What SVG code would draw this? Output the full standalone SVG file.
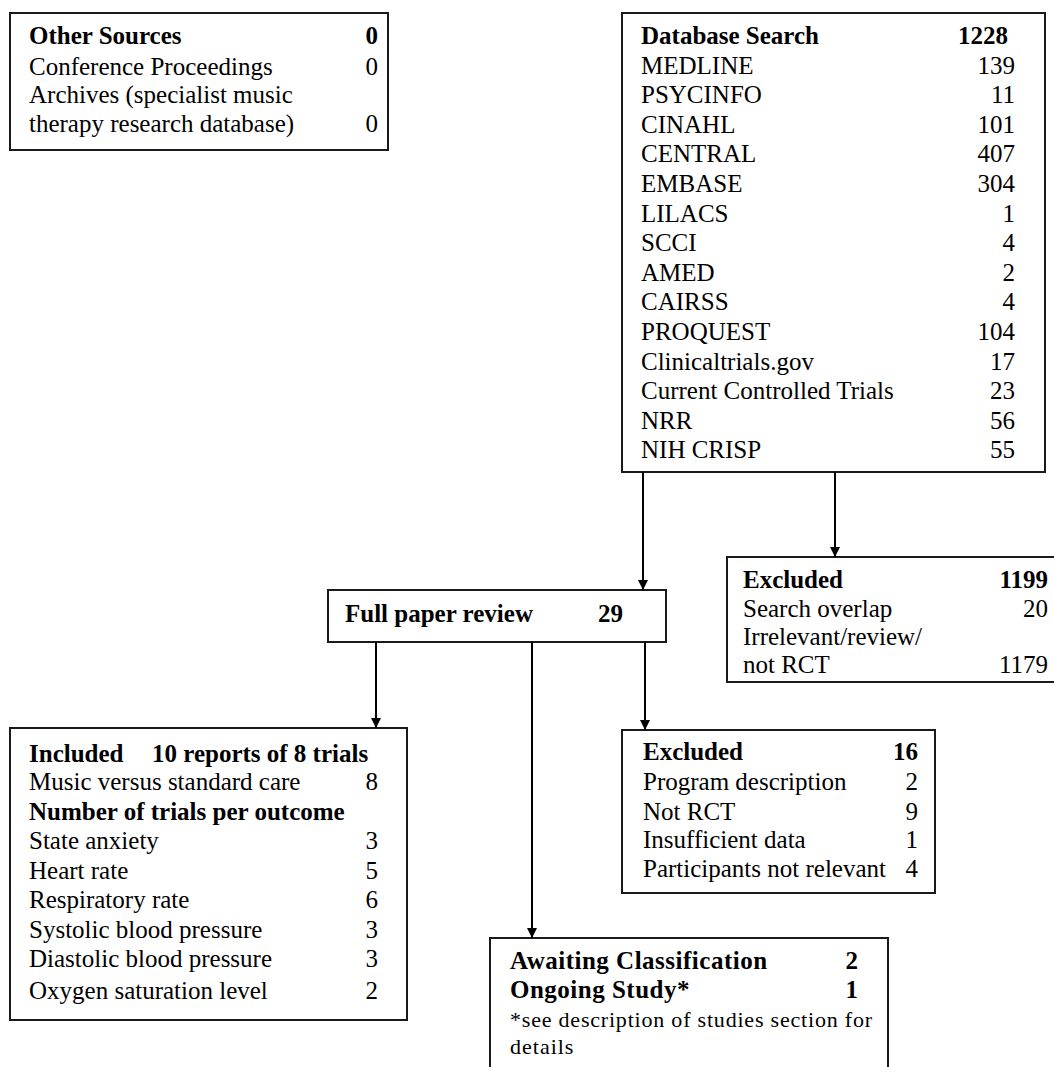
<svg xmlns="http://www.w3.org/2000/svg" width="1054" height="1067" viewBox="0 0 1054 1067">
<style>
text{font-family:"Liberation Serif","Times New Roman",serif;font-size:25px;fill:#000}
.b{font-weight:bold}
.n{text-anchor:end}
.box{fill:#fff;stroke:#1a1a1a;stroke-width:2}
.edge{stroke:#000;stroke-width:2;fill:none}
</style>
<defs>
<marker id="ah" markerWidth="10" markerHeight="10" refX="10" refY="5" orient="auto" markerUnits="userSpaceOnUse">
<path d="M0,0 L10,5 L0,10 Z" fill="#000"/>
</marker>
</defs>
<rect width="1054" height="1067" fill="#fff"/>

<g id="other-sources">
<rect class="box" x="10" y="13" width="378" height="137"/>
<text class="b" x="29" y="44">Other Sources</text><text class="b n" x="378" y="44">0</text>
<text x="29" y="75">Conference Proceedings</text><text class="n" x="378" y="75">0</text>
<text x="29" y="103">Archives (specialist music</text>
<text x="29" y="132">therapy research database)</text><text class="n" x="378" y="132">0</text>
</g>

<g id="database-search">
<rect class="box" x="622" y="13" width="423" height="459"/>
<text class="b" x="641" y="44">Database Search</text><text class="b n" x="1008" y="44">1228</text>
<text x="641" y="74">MEDLINE</text><text class="n" x="1015" y="74">139</text>
<text x="641" y="103">PSYCINFO</text><text class="n" x="1015" y="103">11</text>
<text x="641" y="133">CINAHL</text><text class="n" x="1015" y="133">101</text>
<text x="641" y="162">CENTRAL</text><text class="n" x="1015" y="162">407</text>
<text x="641" y="192">EMBASE</text><text class="n" x="1015" y="192">304</text>
<text x="641" y="222">LILACS</text><text class="n" x="1015" y="222">1</text>
<text x="641" y="251">SCCI</text><text class="n" x="1015" y="251">4</text>
<text x="641" y="281">AMED</text><text class="n" x="1015" y="281">2</text>
<text x="641" y="310">CAIRSS</text><text class="n" x="1015" y="310">4</text>
<text x="641" y="340">PROQUEST</text><text class="n" x="1015" y="340">104</text>
<text x="641" y="370">Clinicaltrials.gov</text><text class="n" x="1015" y="370">17</text>
<text x="641" y="399">Current Controlled Trials</text><text class="n" x="1015" y="399">23</text>
<text x="641" y="429">NRR</text><text class="n" x="1015" y="429">56</text>
<text x="641" y="458">NIH CRISP</text><text class="n" x="1015" y="458">55</text>
</g>

<g id="excluded-search">
<rect class="box" x="727" y="557" width="340" height="125"/>
<text class="b" x="743" y="588">Excluded</text><text class="b n" x="1048" y="588">1199</text>
<text x="743" y="617">Search overlap</text><text class="n" x="1048" y="617">20</text>
<text x="743" y="645">Irrelevant/review/</text>
<text x="743" y="673">not RCT</text><text class="n" x="1048" y="673">1179</text>
</g>

<g id="full-paper-review">
<rect class="box" x="328" y="590" width="338" height="52"/>
<text class="b" x="345" y="622">Full paper review</text><text class="b" x="598" y="622">29</text>
</g>

<g id="included">
<rect class="box" x="10" y="728" width="397" height="292"/>
<text class="b" x="29" y="762">Included</text><text class="b" x="152" y="762">10 reports of 8 trials</text>
<text x="29" y="790">Music versus standard care</text><text class="n" x="378" y="790">8</text>
<text class="b" x="29" y="820">Number of trials per outcome</text>
<text x="29" y="849">State anxiety</text><text class="n" x="378" y="849">3</text>
<text x="29" y="879">Heart rate</text><text class="n" x="378" y="879">5</text>
<text x="29" y="908">Respiratory rate</text><text class="n" x="378" y="908">6</text>
<text x="29" y="938">Systolic blood pressure</text><text class="n" x="378" y="938">3</text>
<text x="29" y="967">Diastolic blood pressure</text><text class="n" x="378" y="967">3</text>
<text x="29" y="999">Oxygen saturation level</text><text class="n" x="378" y="999">2</text>
</g>

<g id="excluded-full">
<rect class="box" x="622" y="730" width="313" height="163"/>
<text class="b" x="643" y="760">Excluded</text><text class="b n" x="918" y="760">16</text>
<text x="643" y="790">Program description</text><text class="n" x="918" y="790">2</text>
<text x="643" y="820">Not RCT</text><text class="n" x="918" y="820">9</text>
<text x="643" y="848">Insufficient data</text><text class="n" x="918" y="848">1</text>
<text x="643" y="877">Participants not relevant</text><text class="n" x="918" y="877">4</text>
</g>

<g id="awaiting">
<rect class="box" x="490" y="938" width="398" height="140"/>
<text class="b" x="510" y="969" letter-spacing="0.5">Awaiting Classification</text><text class="b n" x="858" y="969">2</text>
<text class="b" x="510" y="998" letter-spacing="0.5">Ongoing Study*</text><text class="b n" x="858" y="998">1</text>
<text x="510" y="1027" style="font-size:22px" textLength="362" lengthAdjust="spacing">*see description of studies section for</text>
<text x="510" y="1054" style="font-size:22px" letter-spacing="1">details</text>
</g>

<g id="connectors">
<line class="edge" x1="643" y1="472" x2="643" y2="590" marker-end="url(#ah)"/>
<line class="edge" x1="835" y1="472" x2="835" y2="557" marker-end="url(#ah)"/>
<line class="edge" x1="376" y1="642" x2="376" y2="728" marker-end="url(#ah)"/>
<line class="edge" x1="532" y1="642" x2="532" y2="938" marker-end="url(#ah)"/>
<line class="edge" x1="645" y1="642" x2="645" y2="730" marker-end="url(#ah)"/>
</g>
</svg>
